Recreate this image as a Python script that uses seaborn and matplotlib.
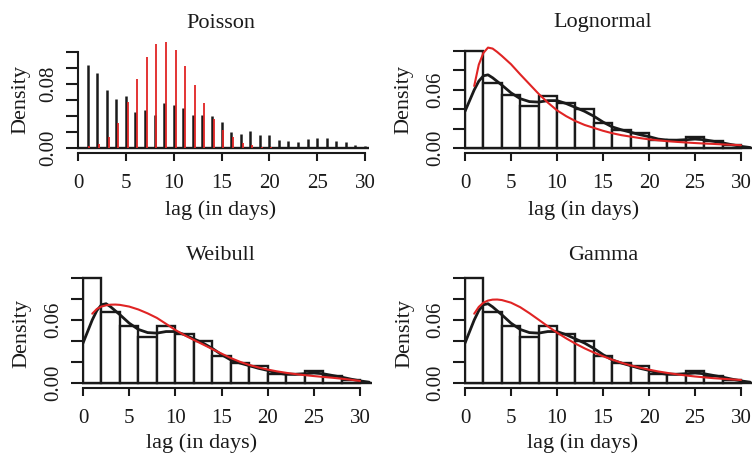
import matplotlib
matplotlib.use("Agg")
import matplotlib.pyplot as plt
import seaborn as sns
import numpy as np

# ---------------- data ----------------
lags = list(range(1, 31))
observed_freq = [0.1036, 0.0940, 0.0730, 0.0610, 0.0646, 0.0444, 0.0478, 0.0410,
                 0.0562, 0.0532, 0.0499, 0.0415, 0.0415, 0.0400, 0.0330, 0.0197,
                 0.0172, 0.0218, 0.0160, 0.0160, 0.0096, 0.0088, 0.0075, 0.0117,
                 0.0126, 0.0126, 0.0088, 0.0075, 0.0042, 0.0025]
poisson_lags = list(range(1, 21))
poisson_fit = [0.0025, 0.0050, 0.0140, 0.0310, 0.0570, 0.0864, 0.1136, 0.1304,
               0.1330, 0.1224, 0.1023, 0.0784, 0.0562, 0.0360, 0.0226, 0.0134,
               0.0067, 0.0034, 0.0017, 0.0008]

bin_edges = list(range(0, 32, 2))
hist_density = [0.1000, 0.0673, 0.0545, 0.0436, 0.0540, 0.0465, 0.0403, 0.0261,
                0.0190, 0.0160, 0.0090, 0.0090, 0.0116, 0.0070, 0.0030]

kde_x = [0, 0.5, 1, 1.5, 2, 2.5, 3] + list(range(4, 32))
kde_y = [0.038, 0.049, 0.060, 0.069, 0.0745, 0.0755, 0.0725,
         0.065, 0.057, 0.051, 0.048, 0.0475, 0.049, 0.049, 0.046, 0.042, 0.038,
         0.033, 0.027, 0.022, 0.019, 0.0165, 0.014, 0.012, 0.0095, 0.0083,
         0.0082, 0.0088, 0.0095, 0.0088, 0.0072, 0.0056, 0.0037, 0.002, 0.0008]

fit_x = [1, 1.5, 2, 2.5, 3, 3.5, 4] + list(range(5, 31))
lognormal_fit = [0.064, 0.086, 0.098, 0.1035, 0.1025, 0.099, 0.095,
                 0.0864, 0.076, 0.066, 0.056, 0.047, 0.039, 0.033, 0.028, 0.024,
                 0.021, 0.018, 0.0155, 0.0135, 0.012, 0.0105, 0.0092, 0.0082,
                 0.0073, 0.0066, 0.0060, 0.0054, 0.0049, 0.0045, 0.0040, 0.0036,
                 0.0032]
weibull_fit = [0.066, 0.0705, 0.0728, 0.0740, 0.0746, 0.0747, 0.0744,
               0.0728, 0.0700, 0.0663, 0.0620, 0.0563, 0.0505, 0.0455, 0.0410,
               0.0367, 0.0323, 0.0280, 0.0238, 0.0202, 0.0172, 0.0148, 0.0128,
               0.0111, 0.0097, 0.0085, 0.0075, 0.0066, 0.0058, 0.0050, 0.0041,
               0.0031, 0.0020]
gamma_fit = [0.066, 0.0725, 0.0765, 0.0785, 0.0794, 0.0795, 0.0790,
             0.0765, 0.0722, 0.0665, 0.0603, 0.0540, 0.0480, 0.0425, 0.0375,
             0.0330, 0.0290, 0.0255, 0.0222, 0.0193, 0.0168, 0.0146, 0.0127,
             0.0110, 0.0096, 0.0083, 0.0072, 0.0062, 0.0054, 0.0046, 0.0040,
             0.0034, 0.0029]

titles = ["Poisson", "Lognormal", "Weibull", "Gamma"]
x_ticks = [0, 5, 10, 15, 20, 25, 30]
x_label = "lag (in days)"
y_label = "Density"

# ---------------- style ----------------
sns.set_theme(style="ticks")
plt.rcParams["font.family"] = ["Liberation Serif", "DejaVu Serif"]
INK = "#1a1a1a"
RED = "#e02424"
plt.rcParams["text.color"] = INK
plt.rcParams["axes.edgecolor"] = INK
plt.rcParams["xtick.color"] = INK
plt.rcParams["ytick.color"] = INK

W, H = 752, 453
fig = plt.figure(figsize=(W / 100, H / 100), dpi=100)

# panel geometry in pixels
panels = [
    dict(x0=78, x30=365, y0=148, yt=52, ytv=0.12, ymax=0.14, lab={0.0: "0.00", 0.08: "0.08"},
         title=(221, 23), xlab=(221, 210), ylab=(21, 100), xr=30.4),
    dict(x0=465, x30=741, y0=148.3, yt=51, ytv=0.10, ymax=0.112, lab={0.0: "0.00", 0.06: "0.06"},
         title=(603, 23), xlab=(584, 210), ylab=(404, 100), xr=31.3),
    dict(x0=83, x30=360, y0=383, yt=278, ytv=0.10, ymax=0.106, lab={0.0: "0.00", 0.06: "0.06"},
         title=(221, 256), xlab=(202, 443), ylab=(22, 333), xr=31.3),
    dict(x0=465, x30=741, y0=383, yt=278, ytv=0.10, ymax=0.106, lab={0.0: "0.00", 0.06: "0.06"},
         title=(603, 256), xlab=(583, 443), ylab=(405, 334), xr=31.3),
]

FS = 15
axes = []
for p in panels:
    sx = (p["x30"] - p["x0"]) / 30.0
    sy = (p["y0"] - p["yt"]) / p["ytv"]
    xl, xr = -0.15, p["xr"]
    yb = -5.0 / sy
    left_px = p["x0"] + xl * sx
    right_px = p["x0"] + xr * sx
    bottom_px = p["y0"] - yb * sy
    top_px = p["y0"] - p["ymax"] * sy
    ax = fig.add_axes([left_px / W, 1 - bottom_px / H,
                       (right_px - left_px) / W, (bottom_px - top_px) / H])
    ax.set_xlim(xl, xr)
    ax.set_ylim(yb, p["ymax"])
    ax.set_facecolor("none")
    for s in ("top", "right"):
        ax.spines[s].set_visible(False)
    ax.spines["left"].set_position(("data", 0))
    ax.spines["left"].set_bounds(0, p["ytv"])
    ax.spines["bottom"].set_bounds(0, 30)
    ax.spines["left"].set_linewidth(1.5)
    ax.spines["bottom"].set_linewidth(1.5)
    yt = list(np.round(np.arange(0, p["ytv"] + 1e-9, 0.02), 2))
    ax.set_yticks(yt)
    ax.set_yticklabels([p["lab"].get(v, "") for v in yt])
    ax.set_xticks(x_ticks)
    ax.set_xticklabels([str(v) for v in x_ticks])
    ax.tick_params(axis="y", length=9, width=1.5, direction="out", pad=5,
                   labelsize=FS, labelrotation=90)
    ax.tick_params(axis="x", length=6, width=1.5, direction="out", pad=9,
                   labelsize=FS)
    for t in ax.get_yticklabels():
        t.set_va("center")
    ax.axhline(0, color=INK, lw=1.7, zorder=1)
    axes.append(ax)

# ---------------- Poisson panel ----------------
ax = axes[0]
ax.vlines(lags, 0, observed_freq, color=INK, lw=1.8, zorder=3)
ax.vlines(np.array(poisson_lags) + 0.2, 0, poisson_fit, color=RED, lw=1.3, zorder=4)

# ---------------- continuous panels ----------------
centers = [(bin_edges[i] + bin_edges[i + 1]) / 2 for i in range(len(hist_density))]
for ax, fit in zip(axes[1:], [lognormal_fit, weibull_fit, gamma_fit]):
    sns.histplot(x=centers, weights=hist_density, bins=bin_edges, stat="count",
                 color="white", edgecolor=INK, linewidth=1.7, alpha=1.0, ax=ax, zorder=2)
    sns.lineplot(x=kde_x, y=kde_y, color=INK, lw=2.0, ax=ax, zorder=4,
                 estimator=None, sort=False)
    sns.lineplot(x=fit_x, y=fit, color=RED, lw=1.5, ax=ax, zorder=5,
                 estimator=None, sort=False)
    ax.set_xlabel("")
    ax.set_ylabel("")
    ax.set_xlim(-0.15, ax.get_xlim()[1])

for ax, p, t in zip(axes, panels, titles):
    fig.text(p["title"][0] / W, 1 - p["title"][1] / H, t, ha="center", va="center",
             fontsize=FS + 1)
    fig.text(p["xlab"][0] / W, 1 - p["xlab"][1] / H, x_label, ha="center", va="center",
             fontsize=FS + 1)
    fig.text(p["ylab"][0] / W, 1 - p["ylab"][1] / H, y_label, ha="center", va="center",
             rotation=90, fontsize=FS + 1)

fig.savefig("out.png", dpi=100)
